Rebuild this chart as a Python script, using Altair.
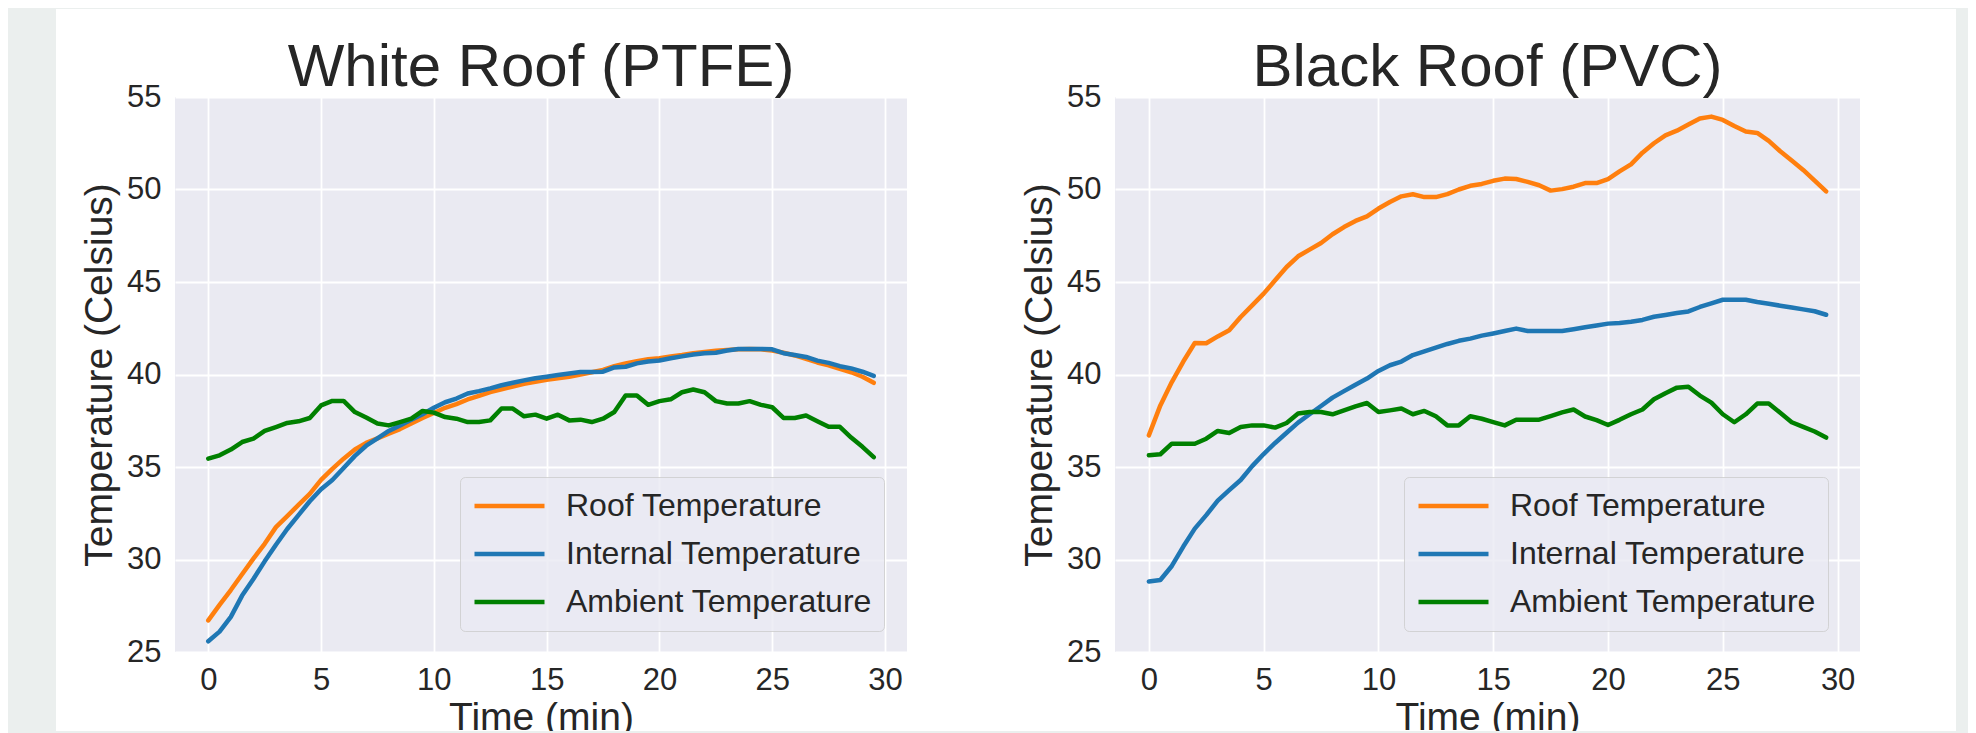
import altair as alt
import pandas as pd

# ---------------- data ----------------
SERIES = ["Roof Temperature", "Internal Temperature", "Ambient Temperature"]
COLORS = ["#ff7f0e", "#1f77b4", "#008000"]
TITLES = ["White Roof (PTFE)", "Black Roof (PVC)"]
X_TITLE = "Time (min)"
Y_TITLE = "Temperature (Celsius)"
X_TICKS = [0, 5, 10, 15, 20, 25, 30]
Y_TICKS = [25, 30, 35, 40, 45, 50, 55]

TIME = [0.0, 0.5, 1.0, 1.5, 2.0, 2.5, 3.0, 3.5, 4.0, 4.5,
        5.0, 5.5, 6.0, 6.5, 7.0, 7.5, 8.0, 8.5, 9.0, 9.5,
        10.0, 10.5, 11.0, 11.5, 12.0, 12.5, 13.0, 13.5, 14.0, 14.5,
        15.0, 15.5, 16.0, 16.5, 17.0, 17.5, 18.0, 18.5, 19.0, 19.5,
        20.0, 20.5, 21.0, 21.5, 22.0, 22.5, 23.0, 23.5, 24.0, 24.5,
        25.0, 25.5, 26.0, 26.5, 27.0, 27.5, 28.0, 28.5, 29.0, 29.5]

WHITE_ROOF = [26.71, 27.55, 28.35, 29.2, 30.05, 30.85, 31.75, 32.35, 32.95, 33.55,
              34.3, 34.9, 35.45, 35.95, 36.3, 36.55, 36.8, 37.05, 37.35, 37.65,
              37.92, 38.2, 38.4, 38.65, 38.85, 39.05, 39.2, 39.35, 39.5, 39.6,
              39.72, 39.8, 39.88, 40.0, 40.12, 40.25, 40.45, 40.6, 40.72, 40.82,
              40.88, 40.97, 41.05, 41.15, 41.22, 41.28, 41.33, 41.37, 41.38, 41.36,
              41.3, 41.18, 41.03, 40.85, 40.65, 40.5, 40.3, 40.12, 39.88, 39.55]
WHITE_INTERNAL = [25.58, 26.1, 26.9, 28.05, 28.95, 29.9, 30.8, 31.65, 32.4, 33.15,
                  33.8, 34.3, 34.95, 35.6, 36.15, 36.55, 36.95, 37.25, 37.55, 37.85,
                  38.2, 38.5, 38.7, 38.97, 39.1, 39.25, 39.42, 39.55, 39.68, 39.8,
                  39.88, 39.97, 40.05, 40.14, 40.14, 40.15, 40.38, 40.42, 40.6, 40.7,
                  40.76, 40.88, 40.98, 41.08, 41.15, 41.18, 41.3, 41.38, 41.38, 41.38,
                  41.36, 41.15, 41.05, 40.95, 40.75, 40.63, 40.45, 40.33, 40.15, 39.92]
WHITE_AMBIENT = [35.45, 35.63, 35.94, 36.35, 36.53, 36.95, 37.16, 37.38, 37.47, 37.65,
                 38.33, 38.57, 38.57, 37.97, 37.67, 37.35, 37.25, 37.43, 37.61, 38.03,
                 37.94, 37.7, 37.61, 37.43, 37.43, 37.52, 38.16, 38.16, 37.74, 37.83,
                 37.61, 37.83, 37.52, 37.56, 37.43, 37.61, 37.97, 38.87, 38.87, 38.36,
                 38.56, 38.66, 39.04, 39.19, 39.04, 38.56, 38.43, 38.43, 38.56, 38.36,
                 38.23, 37.65, 37.65, 37.78, 37.47, 37.17, 37.17, 36.59, 36.09, 35.53]

BLACK_ROOF = [36.71, 38.33, 39.59, 40.7, 41.7, 41.69, 42.06, 42.39, 43.11, 43.74,
              44.37, 45.09, 45.81, 46.39, 46.75, 47.11, 47.58, 47.97, 48.3, 48.55,
              48.97, 49.32, 49.63, 49.74, 49.59, 49.59, 49.75, 50.0, 50.2, 50.3,
              50.47, 50.59, 50.57, 50.41, 50.23, 49.94, 50.02, 50.15, 50.35, 50.35,
              50.56, 50.98, 51.36, 51.99, 52.5, 52.93, 53.18, 53.51, 53.84, 53.94,
              53.76, 53.43, 53.13, 53.06, 52.63, 52.07, 51.57, 51.06, 50.48, 49.9]
BLACK_INTERNAL = [28.81, 28.89, 29.65, 30.7, 31.67, 32.4, 33.18, 33.75, 34.3, 35.05,
                  35.7, 36.3, 36.85, 37.4, 37.85, 38.3, 38.75, 39.1, 39.45, 39.78,
                  40.19, 40.5, 40.7, 41.05, 41.25, 41.45, 41.65, 41.82, 41.94, 42.1,
                  42.22, 42.35, 42.48, 42.35, 42.35, 42.35, 42.35, 42.45, 42.55, 42.65,
                  42.75, 42.78, 42.85, 42.95, 43.12, 43.22, 43.32, 43.41, 43.65, 43.85,
                  44.04, 44.04, 44.04, 43.92, 43.82, 43.72, 43.62, 43.52, 43.42, 43.23]
BLACK_AMBIENT = [35.63, 35.69, 36.26, 36.26, 36.26, 36.53, 36.95, 36.84, 37.16, 37.25,
                 37.25, 37.13, 37.38, 37.89, 37.97, 37.97, 37.85, 38.06, 38.28, 38.46,
                 37.97, 38.06, 38.16, 37.85, 38.03, 37.74, 37.25, 37.25, 37.74, 37.61,
                 37.43, 37.25, 37.56, 37.56, 37.56, 37.75, 37.95, 38.11, 37.73, 37.53,
                 37.27, 37.55, 37.85, 38.11, 38.66, 38.99, 39.29, 39.34, 38.86, 38.48,
                 37.85, 37.42, 37.85, 38.43, 38.43, 37.93, 37.42, 37.17, 36.92, 36.59]

# ---------------- styling ----------------
FONT = "Liberation Sans"
TEXT = "#262626"
PLOT_BG = "#eaeaf2"
CARD_BG = "#ffffff"
PAGE_BG = "#ebefee"
X_DOMAIN = [-1.475, 30.975]
Y_DOMAIN = [25, 55]
PLOT_H = 555


def strip(x1, x2, y1, y2):
    # a piece of the grey page frame around the white card (pixel decoration, no data)
    return alt.Chart(pd.DataFrame({"k": [0]})).mark_rect(color=PAGE_BG).encode(
        x=alt.value(x1), x2=alt.value(x2), y=alt.value(y1), y2=alt.value(y2))


def panel(title, roof, internal, ambient, width, frame, legend_x):
    n = len(TIME)
    df = pd.DataFrame({
        "Time": TIME * 3,
        "Temperature": roof + internal + ambient,
        "Series": [SERIES[0]] * n + [SERIES[1]] * n + [SERIES[2]] * n,
    })
    xs = alt.Scale(domain=X_DOMAIN, nice=False, zero=False)
    ys = alt.Scale(domain=Y_DOMAIN, nice=False, zero=False)

    common_axis = dict(
        grid=True, gridColor="white", gridWidth=1.8, gridOpacity=1,
        domain=False, ticks=False, tickSize=0, format="d",
        labelFont=FONT, labelFontSize=31, labelColor=TEXT,
        labelFlush=False, labelOverlap=False,
        titleFont=FONT, titleFontSize=39, titleFontWeight="normal", titleColor=TEXT,
    )
    x_enc = alt.X("Time:Q", scale=xs, axis=alt.Axis(
        values=X_TICKS, title=X_TITLE, labelPadding=13, titlePadding=3, **common_axis))
    y_enc = alt.Y("Temperature:Q", scale=ys, axis=alt.Axis(
        values=Y_TICKS, title=Y_TITLE, labelPadding=14, titlePadding=7, **common_axis))
    color = alt.Color("Series:N", scale=alt.Scale(domain=SERIES, range=COLORS),
                      legend=alt.Legend(
                          title=None, orient="none", legendX=legend_x, legendY=380,
                          direction="vertical", symbolType="stroke", symbolSize=4900,
                          symbolStrokeWidth=4.5, labelFont=FONT, labelFontSize=32,
                          labelColor=TEXT, labelLimit=600, labelOffset=19,
                          fillColor="rgba(234,234,242,0.8)",
                          strokeColor="rgba(204,204,204,0.8)", cornerRadius=5,
                          padding=12, rowPadding=14, clipHeight=34))
    lines = [
        alt.Chart(df).transform_filter(alt.datum.Series == s).mark_line(
            strokeWidth=4.5, strokeCap="round", strokeJoin="round"
        ).encode(x=x_enc, y=y_enc, color=color)
        for s in SERIES
    ]
    title_mark = alt.Chart(pd.DataFrame({"title": [title]})).mark_text(
        font=FONT, fontSize=60, color=TEXT, align="center", baseline="alphabetic"
    ).encode(text="title:N", x=alt.value(width / 2), y=alt.value(-11))

    strips = [strip(*r) for r in frame]
    return alt.layer(*lines, *strips, title_mark).properties(width=width, height=PLOT_H)


# grey page frame around the white card, in pixels relative to each plot's corner
LEFT_FRAME = [(-167, -119, -89, 640), (-167, 825, -89, -88), (-167, 825, 634, 640)]
RIGHT_FRAME = [(841, 853, -89, 640), (-115, 853, -89, -88), (-115, 853, 634, 640)]

left = panel(TITLES[0], WHITE_ROOF, WHITE_INTERNAL, WHITE_AMBIENT,
             width=732, frame=LEFT_FRAME, legend_x=285)
right = panel(TITLES[1], BLACK_ROOF, BLACK_INTERNAL, BLACK_AMBIENT,
              width=745, frame=RIGHT_FRAME, legend_x=289)

chart = alt.hconcat(left, right, spacing=208, bounds="flush").resolve_scale(
    color="independent").resolve_legend(color="independent").properties(
    background=CARD_BG,
    padding={"left": 0, "top": 0, "right": 0, "bottom": 0},
).configure_view(stroke=None, fill=PLOT_BG)

chart.save("out.html", embed_options={"renderer": "svg", "actions": False})
